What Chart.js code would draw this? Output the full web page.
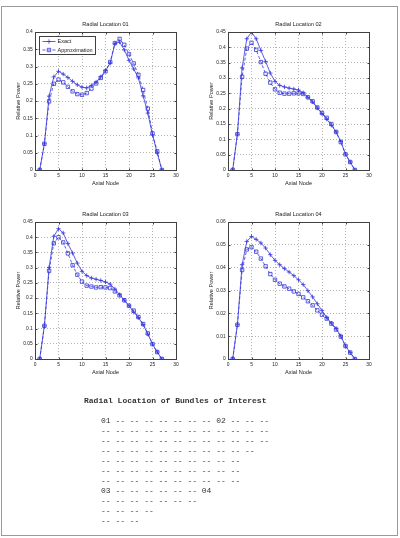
<!DOCTYPE html>
<html>
<head>
<meta charset="utf-8">
<script src="https://cdn.jsdelivr.net/npm/chart.js@4.4.1/dist/chart.umd.min.js"></script>
<style>
  body { margin: 0; background: #fff; width: 400px; height: 538px; position: relative; overflow: hidden; }
  #frame { position: absolute; left: 1px; top: 6px; width: 397px; height: 530px; border: 1px solid #9a9a9a; box-sizing: border-box; }
  canvas.plot { position: absolute; }
  .mono { position: absolute; font-family: "Liberation Mono", "DejaVu Sans Mono", monospace; font-size: 8px; line-height: 10px; white-space: pre; color: #333; will-change: transform; }
</style>
</head>
<body>
<div id="frame"></div>
<canvas id="c1" class="plot" width="193" height="196" style="left:0px;top:10px"></canvas>
<canvas id="c2" class="plot" width="193" height="196" style="left:193px;top:10px"></canvas>
<canvas id="c3" class="plot" width="193" height="195" style="left:0px;top:200px"></canvas>
<canvas id="c4" class="plot" width="193" height="195" style="left:193px;top:200px"></canvas>
<div id="mapTitle" class="mono" style="left:84px;top:396px;font-weight:bold"></div>
<div id="mapRows" class="mono" style="left:100.7px;top:416px"></div>

<script>
// ----- dados -----
const nodes = [1, 2, 3, 4, 5, 6, 7, 8, 9, 10, 11, 12, 13, 14, 15, 16, 17, 18, 19, 20, 21, 22, 23, 24, 25, 26, 27];

const exact01  = [0, 0.076, 0.214, 0.270, 0.286, 0.278, 0.268, 0.257, 0.247, 0.240, 0.238, 0.245, 0.255, 0.270, 0.288, 0.310, 0.366, 0.371, 0.348, 0.318, 0.293, 0.267, 0.215, 0.165, 0.102, 0.049, 0];
const approx01 = [0, 0.076, 0.199, 0.250, 0.262, 0.254, 0.241, 0.228, 0.220, 0.218, 0.223, 0.236, 0.251, 0.267, 0.286, 0.313, 0.368, 0.380, 0.363, 0.336, 0.309, 0.276, 0.232, 0.178, 0.106, 0.054, 0];

const exact02  = [0, 0.117, 0.333, 0.428, 0.450, 0.428, 0.390, 0.354, 0.316, 0.289, 0.276, 0.271, 0.267, 0.264, 0.261, 0.252, 0.237, 0.222, 0.202, 0.184, 0.166, 0.146, 0.124, 0.093, 0.052, 0.026, 0];
const approx02 = [0, 0.117, 0.304, 0.396, 0.415, 0.392, 0.352, 0.314, 0.285, 0.263, 0.252, 0.249, 0.249, 0.250, 0.250, 0.248, 0.237, 0.224, 0.204, 0.186, 0.170, 0.150, 0.124, 0.091, 0.051, 0.026, 0];

const exact03  = [0, 0.109, 0.301, 0.403, 0.428, 0.414, 0.379, 0.348, 0.315, 0.288, 0.274, 0.266, 0.262, 0.258, 0.253, 0.246, 0.230, 0.211, 0.193, 0.175, 0.154, 0.136, 0.113, 0.082, 0.049, 0.023, 0];
const approx03 = [0, 0.109, 0.290, 0.380, 0.400, 0.383, 0.347, 0.308, 0.277, 0.254, 0.241, 0.238, 0.235, 0.236, 0.235, 0.233, 0.222, 0.209, 0.193, 0.175, 0.159, 0.138, 0.115, 0.084, 0.049, 0.023, 0];

const exact04  = [0, 0.0150, 0.0413, 0.0515, 0.0537, 0.0524, 0.0508, 0.0486, 0.0457, 0.0432, 0.0413, 0.0396, 0.0381, 0.0365, 0.0347, 0.0326, 0.0299, 0.0272, 0.0242, 0.0212, 0.0182, 0.0157, 0.0134, 0.0101, 0.0057, 0.0028, 0];
const approx04 = [0, 0.0150, 0.0390, 0.0480, 0.0490, 0.0470, 0.0440, 0.0406, 0.0372, 0.0347, 0.0330, 0.0318, 0.0308, 0.0296, 0.0285, 0.0270, 0.0253, 0.0235, 0.0213, 0.0194, 0.0177, 0.0155, 0.0129, 0.0098, 0.0057, 0.0028, 0];

const seriesLabels = ['Exact', 'Approximation'];
const plotTitles = ['Radial Location 01', 'Radial Location 02', 'Radial Location 03', 'Radial Location 04'];
const yMaxes = [0.4, 0.45, 0.45, 0.06];
const ySteps = [0.05, 0.05, 0.05, 0.01];

const mapHeading = 'Radial Location of Bundles of Interest';
const mapRows = [
  '01 -- -- -- -- -- -- -- 02 -- -- --',
  '-- -- -- -- -- -- -- -- -- -- -- --',
  '-- -- -- -- -- -- -- -- -- -- -- --',
  '-- -- -- -- -- -- -- -- -- -- --',
  '-- -- -- -- -- -- -- -- -- --',
  '-- -- -- -- -- -- -- -- -- --',
  '-- -- -- -- -- -- -- -- -- --',
  '03 -- -- -- -- -- -- 04',
  '-- -- -- -- -- -- --',
  '-- -- -- --',
  '-- -- --'
];

// ----- estilo -----
const BLUE = '#3535dc';
const AXIS = '#404040';
const GRID = '#b4b4b4';
const TEXT = '#222';
const FONT = '"Liberation Sans", Arial, sans-serif';

function fmt(v) {
  return String(Math.round(v * 10000) / 10000);
}

// caixa dos eixos + marcas internas (estilo MATLAB)
const boxPlugin = {
  id: 'box',
  afterDatasetsDraw(chart) {
    const { ctx, chartArea: a, scales } = chart;
    const L = Math.floor(a.left) + 0.5, R = Math.floor(a.right) + 0.5;
    const T = Math.floor(a.top) + 0.5, B = Math.floor(a.bottom) + 0.5;
    ctx.save();
    ctx.strokeStyle = AXIS;
    ctx.lineWidth = 1;
    ctx.strokeRect(L, T, R - L, B - T);
    ctx.beginPath();
    scales.x.ticks.forEach(t => {
      const px = Math.round(scales.x.getPixelForValue(t.value)) + 0.5;
      ctx.moveTo(px, B); ctx.lineTo(px, B - 2);
      ctx.moveTo(px, T); ctx.lineTo(px, T + 2);
    });
    scales.y.ticks.forEach(t => {
      const py = Math.round(scales.y.getPixelForValue(t.value)) + 0.5;
      ctx.moveTo(L, py); ctx.lineTo(L + 2, py);
      ctx.moveTo(R, py); ctx.lineTo(R - 2, py);
    });
    ctx.stroke();
    ctx.restore();
  }
};

// legenda dentro da área do gráfico (só no primeiro)
const insideLegend = {
  id: 'insideLegend',
  afterDraw(chart) {
    const { ctx, chartArea: a } = chart;
    const x0 = Math.floor(a.left) + 4.5, y0 = Math.floor(a.top) + 4.5;
    const w = 56, h = 18;
    ctx.save();
    ctx.fillStyle = '#fff';
    ctx.fillRect(x0, y0, w, h);
    ctx.strokeStyle = AXIS;
    ctx.lineWidth = 1;
    ctx.strokeRect(x0, y0, w, h);
    chart.data.datasets.forEach((ds, i) => {
      const cy = y0 + 5 + i * 8.5;
      ctx.strokeStyle = ds.borderColor;
      ctx.lineWidth = 0.8;
      ctx.setLineDash(ds.borderDash || []);
      ctx.beginPath();
      ctx.moveTo(x0 + 3, cy); ctx.lineTo(x0 + 16, cy);
      ctx.stroke();
      ctx.setLineDash([]);
      const mx = x0 + 9.5;
      ctx.beginPath();
      if (ds.pointStyle === 'cross') {
        ctx.moveTo(mx - 2.2, cy); ctx.lineTo(mx + 2.2, cy);
        ctx.moveTo(mx, cy - 2.2); ctx.lineTo(mx, cy + 2.2);
      } else {
        ctx.rect(mx - 1.7, cy - 1.7, 3.4, 3.4);
      }
      ctx.stroke();
      ctx.fillStyle = TEXT;
      ctx.font = '5.5px ' + FONT;
      ctx.textBaseline = 'middle';
      ctx.fillText(ds.label, x0 + 18, cy + 0.3);
    });
    ctx.restore();
  }
};

function makePlot(id, idx, exact, approx, withLegend) {
  const tickFont = { family: FONT, size: 4.9 };
  const labelFont = { family: FONT, size: 5.6 };
  return new Chart(document.getElementById(id), {
    type: 'line',
    data: {
      datasets: [
        {
          label: seriesLabels[0],
          data: nodes.map((n, i) => ({ x: n, y: exact[i] })),
          borderColor: BLUE, borderWidth: 0.8,
          pointStyle: 'cross', pointRadius: 2.2,
          pointBorderColor: BLUE, pointBorderWidth: 0.8,
          fill: false, tension: 0
        },
        {
          label: seriesLabels[1],
          data: nodes.map((n, i) => ({ x: n, y: approx[i] })),
          borderColor: BLUE, borderWidth: 0.8, borderDash: [3, 2],
          pointStyle: 'rect', pointRadius: 2.4,
          pointBorderColor: BLUE, pointBackgroundColor: 'rgba(0,0,0,0)', pointBorderWidth: 0.8,
          fill: false, tension: 0
        }
      ]
    },
    options: {
      responsive: false,
      animation: false,
      events: [],
      layout: { padding: { left: 0, right: 17, top: 0, bottom: 0 } },
      plugins: {
        legend: { display: false },
        tooltip: { enabled: false },
        title: {
          display: true, text: plotTitles[idx], fullSize: false, color: TEXT,
          font: { family: FONT, size: 5.6, weight: 'normal' },
          padding: { top: 11.1, bottom: 4.2 }
        }
      },
      scales: {
        x: {
          type: 'linear', min: 0, max: 30,
          afterFit(s) { s.height = 36; },
          ticks: { stepSize: 5, autoSkip: false, maxRotation: 0, padding: 2.5, color: TEXT, font: tickFont },
          grid: { color: GRID, lineWidth: 1, drawTicks: false },
          border: { display: false, dash: [1, 2] },
          title: { display: true, text: 'Axial Node', color: TEXT, font: labelFont, padding: { top: 0, bottom: 18.9 } }
        },
        y: {
          min: 0, max: yMaxes[idx],
          afterFit(s) { s.width = 35; },
          ticks: { stepSize: ySteps[idx], autoSkip: false, padding: 2.3, color: TEXT, font: tickFont, callback: v => fmt(v) },
          grid: { color: GRID, lineWidth: 1, drawTicks: false },
          border: { display: false, dash: [1, 2] },
          title: { display: true, text: 'Relative Power', color: TEXT, font: labelFont, padding: { top: 14.6, bottom: 0 } }
        }
      }
    },
    plugins: withLegend ? [boxPlugin, insideLegend] : [boxPlugin]
  });
}

makePlot('c1', 0, exact01, approx01, true);
makePlot('c2', 1, exact02, approx02, false);
makePlot('c3', 2, exact03, approx03, false);
makePlot('c4', 3, exact04, approx04, false);

document.getElementById('mapTitle').textContent = mapHeading;
document.getElementById('mapRows').textContent = mapRows.join('\n');
</script>
</body>
</html>
